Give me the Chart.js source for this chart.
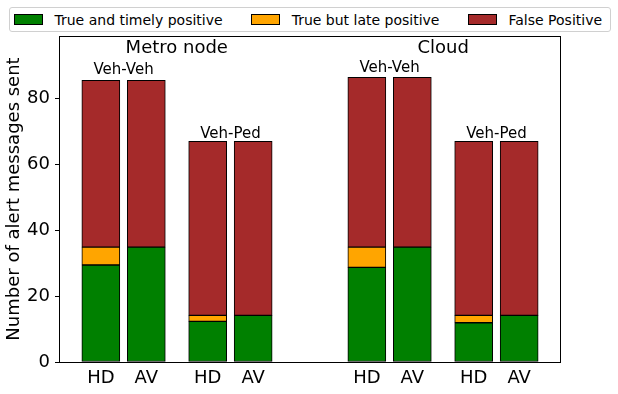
<!DOCTYPE html>
<html>
<head>
<meta charset="utf-8">
<script src="https://cdn.jsdelivr.net/npm/chart.js@4.4.1/dist/chart.umd.min.js"></script>
<style>
  html, body { margin: 0; padding: 0; background: #fff; }
  #wrap { position: relative; width: 618px; height: 394px; font-family: "DejaVu Sans", sans-serif; }
  #chart { display: block; }
  #legend {
    position: absolute; left: 9px; top: 7px; width: 600px; height: 23px;
    border: 1px solid #d0d0d0; border-radius: 3px; background: #fff;
    display: flex; align-items: center; font-size: 14px; color: #000; box-sizing: content-box;
    white-space: nowrap;
  }
  .item { display: flex; align-items: center; margin-right: 28.5px; flex-shrink: 0; }
  .item:first-child { margin-left: 4px; }
  .item:last-child { margin-right: 0; }
  .swatch { width: 27px; height: 9px; border: 1px solid #000; margin-right: 11.5px; flex-shrink: 0; }
</style>
</head>
<body>
<div id="wrap">
  <canvas id="chart" width="618" height="394"></canvas>
  <div id="legend"></div>
</div>
<script>
// ── Data ──────────────────────────────────────────────────
const categories   = ['HD', 'AV', 'HD', 'AV', 'HD', 'AV', 'HD', 'AV'];
const barPositions = [0, 1, 2.35, 3.35, 5.85, 6.85, 8.2, 9.2];
const timely       = [29.4, 34.8, 12.3, 14.15, 28.7, 34.8, 11.9, 14.15];
const late         = [5.4, 0, 1.85, 0, 6.1, 0, 2.25, 0];
const falsePos     = [50.6, 50.6, 52.75, 52.75, 51.5, 51.5, 52.75, 52.75];
const yTicks       = [0, 20, 40, 60, 80];

const panelTitles  = ['Metro node', 'Cloud'];
const panelX       = [1.67, 7.53];
const panelY       = [93.5, 93.6];
const pairLabels   = ['Veh-Veh', 'Veh-Ped', 'Veh-Veh', 'Veh-Ped'];
const pairX        = [0.5, 2.85, 6.35, 8.7];
const pairY        = [87.3, 67.8, 87.8, 67.8];

const series = [
  { label: 'True and timely positive', values: timely,   color: '#008000' },
  { label: 'True but late positive',   values: late,     color: '#FFA500' },
  { label: 'False Positive',           values: falsePos, color: '#A52A2A' },
];

const FONT = '"DejaVu Sans", sans-serif';

// ── Legend (HTML) ─────────────────────────────────────────
document.getElementById('legend').innerHTML = series.map(s =>
  `<div class="item"><span class="swatch" style="background:${s.color}"></span><span>${s.label}</span></div>`
).join('');

// ── Text annotations + frame ─────────────────────────────
const annotations = {
  id: 'annotations',
  afterDatasetsDraw(chart) {
    const { ctx, scales: { x, y } } = chart;
    ctx.save();
    ctx.fillStyle = '#000';
    ctx.textAlign = 'center';
    ctx.textBaseline = 'alphabetic';
    ctx.font = `18px ${FONT}`;
    panelTitles.forEach((t, i) => ctx.fillText(t, x.getPixelForValue(panelX[i]), y.getPixelForValue(panelY[i])));
    ctx.font = `15px ${FONT}`;
    pairLabels.forEach((t, i) => ctx.fillText(t, x.getPixelForValue(pairX[i]), y.getPixelForValue(pairY[i])));
    ctx.restore();
  },
  afterDraw(chart) {
    const { ctx, chartArea: a } = chart;
    ctx.save();
    ctx.strokeStyle = '#000';
    ctx.lineWidth = 1;
    ctx.strokeRect(Math.round(a.left) + 0.5, Math.round(a.top) + 0.5,
                   Math.round(a.right - a.left) - 1, Math.round(a.bottom - a.top));
    ctx.restore();
  }
};

// ── Chart ─────────────────────────────────────────────────
new Chart(document.getElementById('chart'), {
  type: 'bar',
  data: {
    datasets: series.map(s => ({
      label: s.label,
      data: barPositions.map((px, i) => ({ x: px, y: s.values[i] })),
      backgroundColor: s.color,
      borderColor: '#000',
      borderWidth: 1,
      borderSkipped: false,
      barThickness: 38,
    }))
  },
  options: {
    responsive: false,
    animation: false,
    layout: { padding: { top: 36, right: 57, left: 0, bottom: 0 } },
    plugins: { legend: { display: false }, tooltip: { enabled: false } },
    scales: {
      x: {
        type: 'linear',
        stacked: true,
        offset: false,
        min: -0.92,
        max: 10.12,
        afterFit: s => { s.height = 32; },
        afterBuildTicks: s => { s.ticks = barPositions.map(v => ({ value: v })); },
        grid: { display: false, drawTicks: false, offset: false },
        border: { display: false },
        ticks: {
          padding: 6,
          autoSkip: false,
          maxRotation: 0,
          color: '#000',
          font: { family: FONT, size: 18 },
          callback: v => categories[barPositions.indexOf(v)] ?? ''
        }
      },
      y: {
        stacked: true,
        min: 0,
        max: 98.8,
        afterFit: s => { s.width = 59; },
        afterBuildTicks: s => { s.ticks = yTicks.map(v => ({ value: v })); },
        grid: { display: true, drawOnChartArea: false, drawTicks: true, tickLength: 4, color: '#000' },
        border: { display: false },
        ticks: { padding: 5, color: '#000', font: { family: FONT, size: 18 } },
        title: {
          display: true,
          text: 'Number of alert messages sent',
          color: '#000',
          font: { family: FONT, size: 18 },
          padding: { top: 4, bottom: 0 }
        }
      }
    }
  },
  plugins: [annotations]
});
</script>
</body>
</html>
